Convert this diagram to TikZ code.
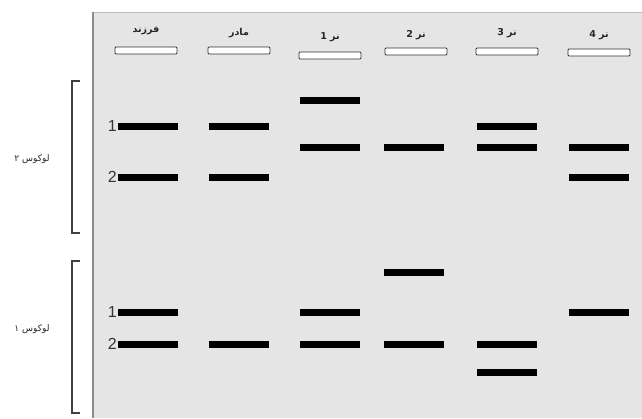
\documentclass[tikz,border=0pt]{standalone}
\usepackage{fontspec}
\setmainfont{Liberation Sans}
\newfontfamily\farsi[Script=Arabic]{DejaVu Sans}
\TeXXeTstate=1
\usetikzlibrary{positioning}
\tikzset{
  band/.style={line width=7pt, black},
  well/.style={draw=black!80, fill=white, line width=.8pt, rounded corners=1pt},
  lanelabel/.style={font=\farsi\bfseries\fontsize{9.5}{10}\selectfont, text=black!85},
  locuslabel/.style={font=\farsi\fontsize{9}{10}\selectfont, text=black!85},
  allele/.style={font=\fontsize{16}{16}\selectfont, text=black!80, anchor=east, inner sep=1pt},
  brace/.style={line width=1.1pt, black!75}
}

\begin{document}
\begin{tikzpicture}[x=1pt, y=-1pt]
    \useasboundingbox (0,0) rectangle (642,418);
    \fill[white] (0,0) rectangle (642,418);
    \fill[black!10] (93,12) rectangle (642,418);
    \draw[black!25, line width=1pt] (93,12) -- (642,12);
    \draw[black!45, line width=1.6pt] (93,418) -- (93,12);
    \foreach \x/\ty/\wy/\name/\label in {146/31/47/child/فرزند,239/33/47/mother/مادر,
        330/37/52/male1/نر 1,416/35/48/male2/نر 2,507/33/48/male3/نر 3,599/35/49/male4/نر 4}{
      \node[lanelabel] (\name) at (\x,\ty) {\beginR\label\endR};
      \draw[well] (\x-31,\wy) rectangle (\x+31,\wy+7);
    }
    \foreach \x/\y in {330/100,148/126,239/126,507/126,330/147,414/147,507/147,599/147,
        148/177,239/177,599/177,414/272,148/312,330/312,599/312,
        148/344,239/344,330/344,414/344,507/344,507/372}
      \draw[band] (\x-30,\y) -- (\x+30,\y);
    \foreach \y/\n/\name in {126/1/upone,177/2/uptwo,312/1/lowone,344/2/lowtwo}
      \node[allele] (\name) at (118,\y) {\n};
    \draw[brace] (80,81) -- (72,81) -- (72,233) -- (80,233);
    \draw[brace] (80,261) -- (72,261) -- (72,413) -- (80,413);
    \node[locuslabel] (locustwo) at (32,159) {\beginR لوکوس ۲\endR};
    \node[locuslabel] (locusone) at (32,329) {\beginR لوکوس ۱\endR};
\end{tikzpicture}
\end{document}
